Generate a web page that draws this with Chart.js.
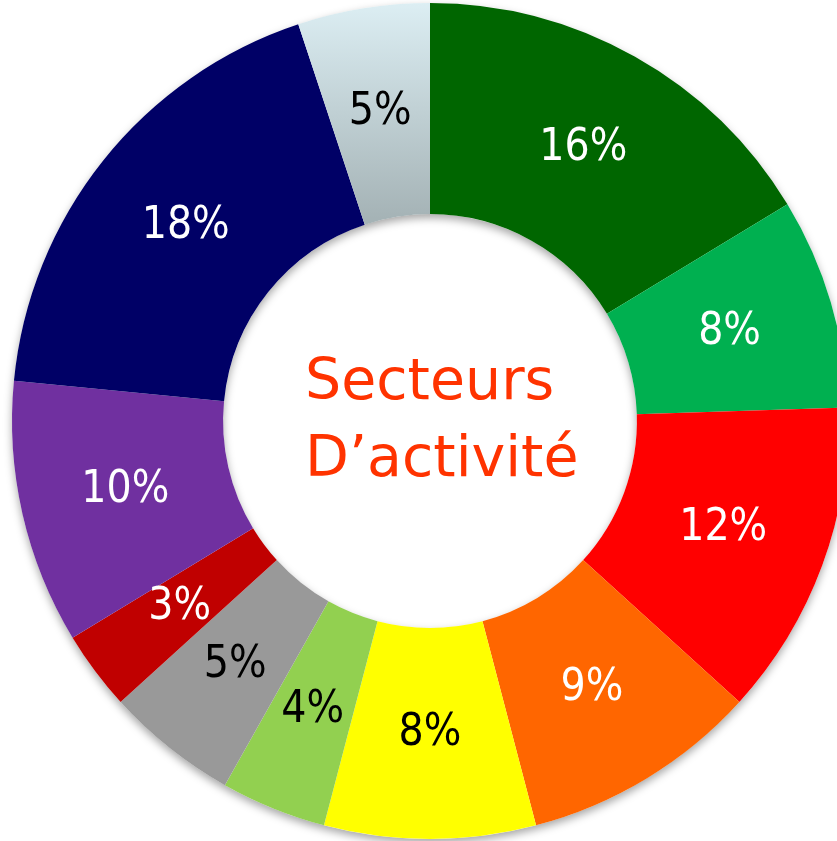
<!DOCTYPE html>
<html>
<head>
<meta charset="utf-8">
<script src="https://cdn.jsdelivr.net/npm/chart.js@4"></script>
<style>
  html, body { margin: 0; padding: 0; background: #fff; overflow: hidden; }
  canvas { display: block; }
</style>
</head>
<body>
<canvas id="donut" width="860" height="842"></canvas>
<script>
// sectors, clockwise from 12 o'clock
const sectors = ["S1", "S2", "S3", "S4", "S5", "S6", "S7", "S8", "S9", "S10", "S11"];
const shares = [16, 8, 12, 9, 8, 4, 5, 3, 10, 18, 5];
const colors = ["#006600", "#00B050", "#FF0000", "#FF6600", "#FFFF00", "#92D050",
  "#999999", "#C00000", "#7030A0", "#000066", "gradient"];
const labelColors = ["#fff", "#fff", "#fff", "#fff", "#000", "#000",
  "#000", "#fff", "#fff", "#fff", "#000"];
const centerLines = ["Secteurs", "D\u2019activité"];

const ctx = document.getElementById("donut").getContext("2d");

// soft drop shadow under the whole ring
const ringShadow = {
  id: "ringShadow",
  beforeDatasetsDraw(chart) {
    const arc = chart.getDatasetMeta(0).data[0];
    if (!arc) return;
    const c = chart.ctx;
    c.save();
    c.shadowColor = "rgba(0,0,0,0.35)";
    c.shadowBlur = 8;
    c.shadowOffsetY = 4;
    c.fillStyle = "#fff";
    c.beginPath();
    c.arc(arc.x, arc.y, arc.outerRadius, 0, Math.PI * 2);
    c.arc(arc.x, arc.y, arc.innerRadius, 0, Math.PI * 2, true);
    c.fill();
    c.restore();
  }
};

const sliceLabels = {
  id: "sliceLabels",
  afterDatasetsDraw(chart) {
    const c = chart.ctx;
    const meta = chart.getDatasetMeta(0);
    c.save();
    c.textAlign = "center";
    c.textBaseline = "middle";
    meta.data.forEach((arc, i) => {
      const p = arc.getProps(["x", "y", "startAngle", "endAngle", "innerRadius", "outerRadius"], true);
      const a = (p.startAngle + p.endAngle) / 2;
      const r = (p.innerRadius + p.outerRadius) / 2;
      c.save();
      c.translate(p.x + Math.cos(a) * r, p.y + Math.sin(a) * r);
      c.scale(0.9, 1);
      c.font = "44px 'DejaVu Sans'";
      c.fillStyle = labelColors[i];
      c.fillText(shares[i] + "%", 0, 0);
      c.restore();
    });
    // centre title
    const p0 = meta.data[0];
    c.fillStyle = "#FF3300";
    c.font = "57px 'DejaVu Sans'";
    c.textAlign = "left";
    c.textBaseline = "alphabetic";
    c.fillText(centerLines[0], p0.x - 125, p0.y - 22);
    c.fillText(centerLines[1], p0.x - 125, p0.y + 55);
    c.restore();
  }
};

new Chart(ctx, {
  type: "doughnut",
  data: {
    labels: sectors,
    datasets: [{
      data: shares,
      backgroundColor: (context) => {
        const col = colors[context.dataIndex];
        if (col !== "gradient") return col;
        const area = context.chart.chartArea;
        if (!area) return "#C8D8DC";
        const g = context.chart.ctx.createLinearGradient(0, area.top, 0, area.top + 215);
        g.addColorStop(0, "#DCEEF3");
        g.addColorStop(1, "#A5B3B6");
        return g;
      },
      borderWidth: 0
    }]
  },
  options: {
    responsive: false,
    animation: false,
    cutout: "49.5%",
    layout: { padding: { top: 3, bottom: 3, left: 12, right: 12 } },
    plugins: {
      legend: { display: false },
      tooltip: { enabled: false }
    }
  },
  plugins: [ringShadow, sliceLabels]
});
</script>
</body>
</html>
